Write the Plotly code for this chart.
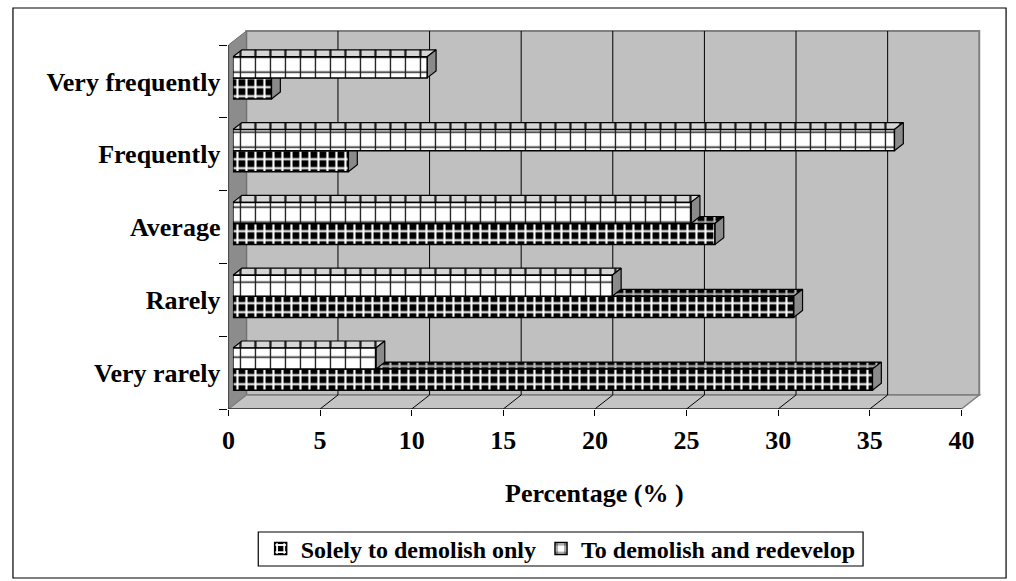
import plotly.graph_objects as go

# ---- data -------------------------------------------------------------
categories = ["Very rarely", "Rarely", "Average", "Frequently", "Very frequently"]
demolish_only = [34.9, 30.6, 26.3, 6.3, 2.1]
demolish_redevelop = [7.8, 20.7, 25.0, 36.1, 10.6]
series_names = ["Solely to demolish only", "To demolish and redevelop"]
x_ticks = [0, 5, 10, 15, 20, 25, 30, 35, 40]
x_title = "Percentage (% )"

# ---- geometry of the pseudo-3D box (pixels) ---------------------------
W, H = 1016, 581
FONT = "Liberation Serif"
X0, X40 = 223, 961            # front edge: value 0 and value 40
Y_FLOOR, Y_TOP = 409, 45      # front edge: bottom and top of category band
KX = (X40 - X0) / 40.0
KY = (Y_FLOOR - Y_TOP) / len(categories)
DEPTH_PX = (18, 14)           # depth of the box: right / up
DX, DY = DEPTH_PX[0] / KX, DEPTH_PX[1] / KY
X_MAX, Y_MIN, Y_MAX = 42.0, -0.5, 4.8
Y_HI = len(categories) - 0.5

BAR_W = 0.29                  # thickness of one bar (category units)
BAR_FRONT, BAR_BACK = 0.25, 0.75
bdx = (BAR_BACK - BAR_FRONT) * DX
bdy = (BAR_BACK - BAR_FRONT) * DY
SHIFT = (BAR_FRONT * DEPTH_PX[0], BAR_FRONT * DEPTH_PX[1])

LEGEND_BOX = (253, 532, 862, 566)   # left, top, right, bottom in pixels


def x_domain(shift):
    left = X0 + shift
    return [left / W, (left + X_MAX * KX) / W]


def y_domain(shift):
    bottom = Y_FLOOR - shift
    top = bottom - (Y_MAX - Y_MIN) * KY
    return [1 - bottom / H, 1 - top / H]


checker = dict(shape="+", fgcolor="white", bgcolor="black", size=9,
               solidity=0.42, fillmode="replace")
grid = dict(shape="+", fgcolor="#1a1a1a", bgcolor="white", size=15,
            solidity=0.17, fillmode="replace")
checker_top = dict(shape="+", fgcolor="#bdbdbd", bgcolor="black", size=9,
                   solidity=0.42, fillmode="replace")
grid_top = dict(shape="|", fgcolor="#1a1a1a", bgcolor="#d6d6d6", size=15,
                solidity=0.15, fillmode="replace")

fig = go.Figure()

# anchor trace for the front axes
fig.add_trace(go.Scatter(x=[0], y=[0], mode="markers", marker=dict(opacity=0),
                         showlegend=False, hoverinfo="skip"))

# top and side faces of the bars
series = [(demolish_only, -BAR_W, checker_top), (demolish_redevelop, 0.0, grid_top)]
for values, offset, top_pattern in series:
    for i, v in enumerate(values):
        yl = i + offset
        yh = yl + BAR_W
        fig.add_trace(go.Scatter(
            x=[0, v, v + bdx, bdx, 0], y=[yh, yh, yh + bdy, yh + bdy, yh],
            mode="lines", fill="toself", fillpattern=top_pattern,
            line=dict(color="black", width=1.2), xaxis="x2", yaxis="y2",
            showlegend=False, hoverinfo="skip"))
        fig.add_trace(go.Scatter(
            x=[v, v + bdx, v + bdx, v, v], y=[yl, yl + bdy, yh + bdy, yh, yl],
            mode="lines", fill="toself", fillcolor="#8a8a8a",
            line=dict(color="black", width=1.2), xaxis="x2", yaxis="y2",
            showlegend=False, hoverinfo="skip"))

# front faces of the bars
ypos = list(range(len(categories)))
fig.add_trace(go.Bar(
    y=ypos, x=demolish_only, orientation="h", width=BAR_W, offset=-BAR_W,
    name=series_names[0], xaxis="x2", yaxis="y4",
    marker=dict(color="black", pattern=checker, line=dict(color="black", width=1.5))))
fig.add_trace(go.Bar(
    y=ypos, x=demolish_redevelop, orientation="h", width=BAR_W, offset=0,
    name=series_names[1], xaxis="x2", yaxis="y4",
    marker=dict(color="white", pattern=grid, line=dict(color="black", width=1.5))))

# walls, floor and grid
shapes = [
    dict(type="rect", xref="x", yref="y", x0=DX, x1=40 + DX, y0=Y_MIN + DY, y1=Y_HI + DY,
         fillcolor="#c0c0c0", line=dict(color="#808080", width=2), layer="below"),
    dict(type="path", xref="x", yref="y",
         path=f"M 0,{Y_MIN} L {DX},{Y_MIN + DY} L {DX},{Y_HI + DY} L 0,{Y_HI} Z",
         fillcolor="#8c8c8c", line=dict(color="#6e6e6e", width=1), layer="below"),
    dict(type="path", xref="x", yref="y",
         path=f"M 0,{Y_MIN} L 40,{Y_MIN} L {40 + DX},{Y_MIN + DY} L {DX},{Y_MIN + DY} Z",
         fillcolor="#c4c4c4", line=dict(color="#808080", width=1.5), layer="below"),
]
for t in x_ticks[1:-1]:
    shapes.append(dict(type="line", xref="x", yref="y", x0=t + DX, x1=t + DX,
                       y0=Y_MIN + DY, y1=Y_HI + DY, line=dict(color="black", width=1),
                       layer="below"))
    shapes.append(dict(type="line", xref="x", yref="y", x0=t, x1=t + DX,
                       y0=Y_MIN, y1=Y_MIN + DY, line=dict(color="black", width=1),
                       layer="below"))
# front axis lines
shapes.append(dict(type="line", xref="x", yref="y", x0=0, x1=40, y0=Y_MIN, y1=Y_MIN,
                   line=dict(color="black", width=1.2), layer="below"))
shapes.append(dict(type="line", xref="x", yref="y", x0=0, x1=0, y0=Y_MIN, y1=Y_HI,
                   line=dict(color="black", width=1.2), layer="below"))
# chart border and legend frame
shapes.append(dict(type="rect", xref="paper", yref="paper", x0=6 / W, x1=1006 / W,
                   y0=1 - 578 / H, y1=1 - 8 / H, line=dict(color="black", width=1.2),
                   layer="below"))
lb_l, lb_t, lb_r, lb_b = LEGEND_BOX
shapes.append(dict(type="rect", xref="paper", yref="paper", x0=lb_l / W, x1=lb_r / W,
                   y0=1 - lb_b / H, y1=1 - lb_t / H, fillcolor="white",
                   line=dict(color="black", width=1.2), layer="below"))

tick_font = dict(family=FONT, size=26, color="black", weight="bold")

fig.update_layout(
    width=W, height=H,
    margin=dict(l=0, r=0, t=0, b=0),
    paper_bgcolor="white", plot_bgcolor="rgba(0,0,0,0)",
    barmode="overlay",
    shapes=shapes,
    xaxis=dict(domain=x_domain(0), range=[0, X_MAX], tickvals=x_ticks,
               ticks="outside", ticklen=6, tickcolor="black", tickfont=tick_font,
               ticklabelstandoff=2, showgrid=False, zeroline=False, showline=False,
               anchor="y", fixedrange=True),
    yaxis=dict(domain=y_domain(0), range=[Y_MIN, Y_MAX], tickvals=ypos,
               ticktext=categories, ticks="", tickfont=tick_font, ticklabelstandoff=7,
               minor=dict(tickmode="array",
                          tickvals=[k - 0.5 for k in range(len(categories) + 1)],
                          ticks="outside", ticklen=8, tickcolor="black", showgrid=False),
               showgrid=False, zeroline=False, showline=False, anchor="x", fixedrange=True),
    xaxis2=dict(domain=x_domain(SHIFT[0]), range=[0, X_MAX], visible=False,
                anchor="y2", fixedrange=True),
    yaxis2=dict(domain=y_domain(SHIFT[1]), range=[Y_MIN, Y_MAX], visible=False,
                anchor="x2", fixedrange=True),
    yaxis4=dict(range=[Y_MIN, Y_MAX], overlaying="y2", visible=False,
                anchor="x2", fixedrange=True),
    legend=dict(orientation="h", x=(lb_l + lb_r) / 2 / W, xanchor="center",
                y=1 - (lb_t + lb_b) / 2 / H, yanchor="middle",
                bgcolor="rgba(0,0,0,0)", borderwidth=0,
                font=dict(family=FONT, size=24, color="black", weight="bold"),
                traceorder="normal", itemwidth=30),
    annotations=[dict(text=x_title, xref="x", yref="paper", x=20, y=1 - 493 / H,
                      yanchor="middle", showarrow=False,
                      font=dict(family=FONT, size=26, color="black", weight="bold"))],
    showlegend=True,
)

fig.write_html("out.html")
